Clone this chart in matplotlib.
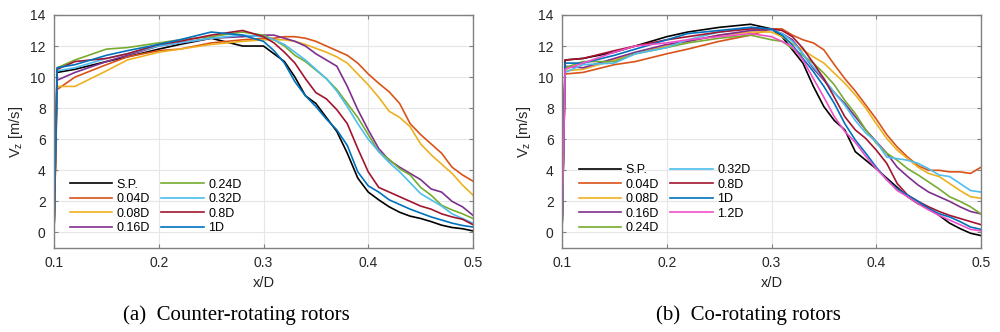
import numpy as np
import matplotlib.pyplot as plt

plt.rcParams['font.family'] = ['Liberation Sans', 'DejaVu Sans']

# x/D sample positions (shared by every curve)
x_pos = [0.1, 0.103, 0.12, 0.15, 0.17, 0.2, 0.22, 0.25, 0.28,
         0.30, 0.31, 0.32, 0.33, 0.34, 0.35, 0.36, 0.37, 0.38, 0.39, 0.40,
         0.41, 0.42, 0.43, 0.44, 0.45, 0.46, 0.47, 0.48, 0.49, 0.50]

# (a) counter-rotating rotors
labels_a = ['S.P.', '0.04D', '0.08D', '0.16D', '0.24D', '0.32D', '0.8D', '1D']
vz_a_sp = [0, 10.3, 10.5, 11.0, 11.3, 11.8, 12.1, 12.5, 12.0,
           12.0, 11.5, 11.0, 10.0, 8.8, 8.3, 7.4, 6.5, 5.1, 3.5, 2.6,
           2.1, 1.65, 1.3, 1.05, 0.9, 0.7, 0.47, 0.32, 0.24, 0.1]
vz_a_004 = [0, 9.2, 10.0, 10.8, 11.3, 11.7, 11.8, 12.2, 12.4,
            12.5, 12.5, 12.6, 12.6, 12.5, 12.3, 12.0, 11.7, 11.4, 10.9, 10.2,
            9.6, 9.05, 8.3, 7.0, 6.3, 5.7, 5.1, 4.2, 3.7, 3.3]
vz_a_008 = [0, 9.4, 9.4, 10.4, 11.1, 11.6, 11.8, 12.1, 12.3,
            12.4, 12.4, 12.4, 12.3, 12.1, 11.85, 11.6, 11.3, 10.9, 10.2, 9.5,
            8.7, 7.8, 7.4, 6.8, 5.7, 5.0, 4.4, 3.8, 3.05, 2.4]
vz_a_016 = [0, 9.8, 10.3, 11.0, 11.4, 12.0, 12.2, 12.5, 12.6,
            12.7, 12.7, 12.5, 12.3, 12.0, 11.5, 11.1, 10.7, 9.4, 7.9, 6.6,
            5.4, 4.65, 4.2, 3.8, 3.4, 2.8, 2.6, 2.0, 1.65, 1.1]
vz_a_024 = [0, 10.6, 11.1, 11.8, 11.9, 12.2, 12.4, 12.6, 12.9,
            12.7, 12.4, 12.0, 11.4, 11.0, 10.45, 9.9, 9.2, 8.3, 7.4, 6.3,
            5.2, 4.7, 4.1, 3.7, 2.9, 2.4, 1.75, 1.45, 1.2, 0.9]
vz_a_032 = [0, 10.4, 10.6, 11.2, 11.5, 12.0, 12.2, 12.5, 12.7,
            12.6, 12.4, 12.1, 11.6, 11.1, 10.5, 9.9, 9.1, 8.1, 7.0, 6.0,
            5.2, 4.5, 3.9, 3.2, 2.5, 2.1, 1.7, 1.2, 0.9, 0.6]
vz_a_08 = [0, 10.5, 11.0, 11.2, 11.5, 12.1, 12.3, 12.7, 13.0,
           12.6, 12.2, 11.6, 10.9, 9.9, 9.0, 8.6, 7.9, 7.0, 5.4, 3.9,
           2.9, 2.6, 2.3, 2.0, 1.7, 1.5, 1.2, 1.0, 0.85, 0.5]
vz_a_1 = [0, 10.6, 10.8, 11.4, 11.7, 12.1, 12.4, 12.9, 12.7,
          12.3, 11.7, 10.9, 9.7, 8.8, 8.1, 7.3, 6.6, 5.6, 3.9, 3.0,
          2.6, 2.1, 1.8, 1.5, 1.25, 1.0, 0.8, 0.6, 0.45, 0.35]

# (b) co-rotating rotors
labels_b = ['S.P.', '0.04D', '0.08D', '0.16D', '0.24D', '0.32D', '0.8D', '1D', '1.2D']
vz_b_sp = [0, 11.1, 11.2, 11.6, 12.0, 12.6, 12.9, 13.2, 13.4,
           13.1, 12.6, 11.75, 10.9, 9.4, 8.1, 7.2, 6.6, 5.2, 4.65, 4.1,
           3.5, 2.9, 2.3, 1.85, 1.55, 1.1, 0.6, 0.25, -0.05, -0.2]
vz_b_004 = [0, 10.2, 10.3, 10.8, 11.0, 11.5, 11.8, 12.3, 12.7,
            13.1, 13.1, 12.7, 12.4, 12.2, 11.75, 10.8, 9.9, 9.1, 8.2, 7.3,
            6.3, 5.5, 4.85, 4.3, 4.0, 4.0, 3.9, 3.9, 3.8, 4.2]
vz_b_008 = [0, 10.4, 10.5, 11.1, 11.5, 12.0, 12.3, 12.7, 12.9,
            12.9, 12.6, 12.15, 11.75, 11.3, 10.9, 10.25, 9.6, 8.85, 8.0, 7.0,
            6.05, 5.3, 4.75, 4.2, 3.8, 3.6, 3.15, 2.7, 2.3, 2.2]
vz_b_016 = [0, 10.7, 10.6, 11.2, 11.6, 12.1, 12.3, 12.7, 13.0,
            13.05, 12.8, 12.4, 11.5, 10.55, 9.8, 9.0, 8.3, 7.45, 6.6, 5.85,
            5.1, 4.2, 3.6, 3.05, 2.6, 2.3, 2.0, 1.65, 1.35, 1.2]
vz_b_024 = [0, 10.6, 11.0, 11.0, 11.5, 11.9, 12.2, 12.5, 12.7,
            12.4, 12.3, 11.85, 11.4, 10.9, 10.25, 9.5, 8.5, 7.65, 6.6, 5.75,
            5.1, 4.65, 4.1, 3.7, 3.25, 2.8, 2.3, 2.0, 1.65, 1.2]
vz_b_032 = [0, 10.3, 10.8, 10.9, 11.5, 11.9, 12.4, 12.9, 13.2,
            13.05, 12.8, 12.3, 11.5, 10.65, 9.9, 9.0, 8.2, 7.2, 6.4, 5.85,
            4.85, 4.75, 4.65, 4.45, 4.1, 3.7, 3.6, 3.15, 2.7, 2.6]
vz_b_08 = [0, 11.1, 11.2, 11.7, 12.0, 12.4, 12.6, 12.9, 13.1,
           13.1, 13.0, 12.6, 11.85, 10.9, 9.9, 8.7, 7.45, 6.6, 6.05, 5.3,
           4.45, 3.15, 2.4, 2.0, 1.65, 1.35, 1.1, 0.9, 0.7, 0.5]
vz_b_1 = [0, 10.9, 10.9, 11.4, 11.8, 12.4, 12.8, 13.0, 13.2,
          13.1, 12.7, 12.05, 11.2, 10.35, 9.4, 8.3, 7.0, 5.95, 5.1, 4.2,
          3.4, 2.8, 2.4, 2.0, 1.55, 1.2, 1.0, 0.7, 0.35, 0.2]
vz_b_12 = [0, 10.5, 10.9, 11.6, 12.0, 12.2, 12.4, 12.6, 12.8,
           12.6, 12.3, 11.95, 11.1, 9.9, 8.7, 7.45, 6.5, 5.8, 4.9, 4.1,
           3.4, 2.7, 2.3, 1.85, 1.45, 1.1, 0.8, 0.5, 0.2, 0.1]

# MATLAB default line colours
colors = ['#000000', '#D95319', '#EDB120', '#7E2F8E', '#77AC30',
          '#4DBEEE', '#A2142F', '#0072BD', '#F24FC8']

series_a = [vz_a_sp, vz_a_004, vz_a_008, vz_a_016, vz_a_024, vz_a_032, vz_a_08, vz_a_1]
series_b = [vz_b_sp, vz_b_004, vz_b_008, vz_b_016, vz_b_024, vz_b_032, vz_b_08, vz_b_1, vz_b_12]

fig = plt.figure(figsize=(10, 3.32), dpi=100)
ax_a = fig.add_axes([0.054, 0.253, 0.419, 0.702])
ax_b = fig.add_axes([0.562, 0.253, 0.419, 0.702])


def style(ax):
    ax.set_xlim(0.1, 0.5)
    ax.set_ylim(-1, 14)
    ax.set_xticks([0.1, 0.2, 0.3, 0.4, 0.5])
    ax.set_xticklabels(['0.1', '0.2', '0.3', '0.4', '0.5'])
    ax.set_yticks(range(0, 15, 2))
    ax.grid(True, color='#e6e6e6', linewidth=0.8)
    ax.set_axisbelow(True)
    for s in ax.spines.values():
        s.set_color('#808080')
        s.set_linewidth(1.0)
    ax.tick_params(direction='in', length=3, color='#808080',
                   labelsize=10, labelcolor='#262626', top=True, right=True,
                   labeltop=False, labelright=False, pad=6)
    ax.set_xlabel('x/D', fontsize=10.5, color='#262626', labelpad=4)
    ax.set_ylabel(r'V$_\mathregular{z}$ [m/s]', fontsize=10.5, color='#262626', labelpad=4)


for ax, series, labels in [(ax_a, series_a, labels_a), (ax_b, series_b, labels_b)]:
    for vals, lab, c in zip(series, labels, colors):
        ax.plot(x_pos, vals, color=c, linewidth=1.2, label=lab)
    style(ax)

leg_kw = dict(ncol=2, frameon=False, fontsize=9, handlelength=3.4,
              handletextpad=0.35, columnspacing=0.9, labelspacing=0.2,
              borderaxespad=0, borderpad=0)
ax_a.legend(loc='lower left', bbox_to_anchor=(0.038, 0.06), **leg_kw)
ax_b.legend(loc='lower left', bbox_to_anchor=(0.04, 0.06), **leg_kw)

fig.text(0.236, 0.05, '(a)  Counter-rotating rotors', ha='center', va='center',
         fontsize=15, family='Liberation Serif')
fig.text(0.748, 0.05, '(b)  Co-rotating rotors', ha='center', va='center',
         fontsize=15, family='Liberation Serif')

fig.savefig('out.png', dpi=100)
